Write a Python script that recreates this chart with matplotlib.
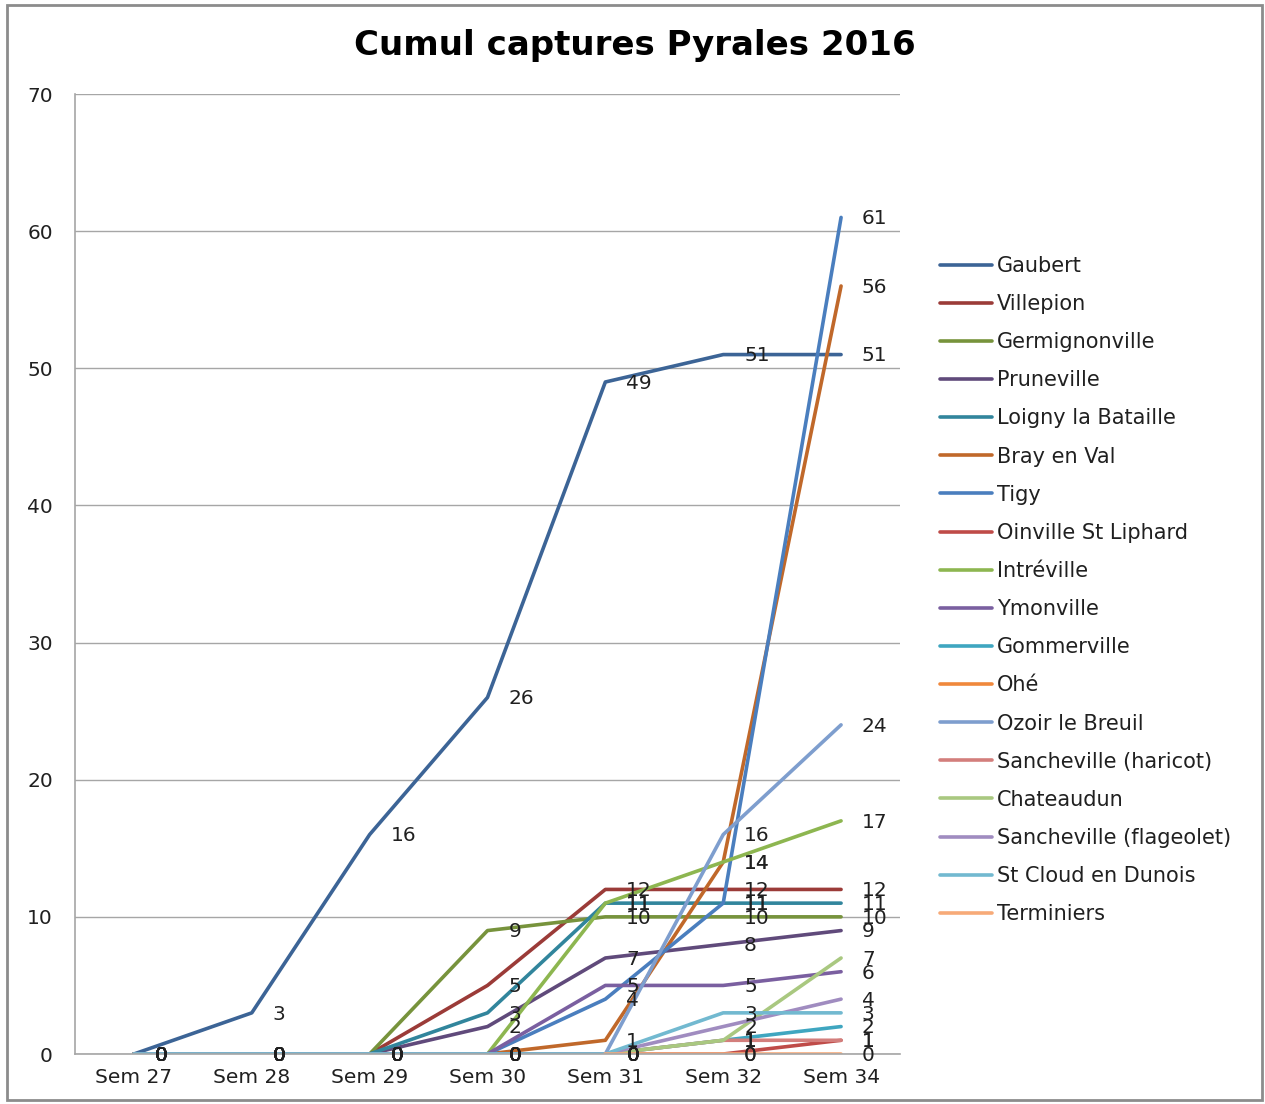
import matplotlib
matplotlib.use("Agg")
import matplotlib.pyplot as plt
import matplotlib.patches as mpatches
import numpy as np

nan = np.nan
weeks = ["Sem 27", "Sem 28", "Sem 29", "Sem 30", "Sem 31", "Sem 32", "Sem 34"]

gaubert = [0, 3, 16, 26, 49, 51, 51]
villepion = [0, 0, 0, 5, 12, 12, 12]
germignonville = [0, 0, 0, 9, 10, 10, 10]
pruneville = [0, 0, 0, 2, 7, 8, 9]
loigny = [0, 0, 0, 3, 11, 11, 11]
bray = [0, 0, 0, 0, 1, 14, 56]
tigy = [0, 0, 0, 0, 4, 11, 61]
oinville = [0, 0, 0, 0, 0, 0, 1]
intreville = [0, 0, 0, 0, 11, 14, 17]
ymonville = [0, 0, 0, 0, 5, 5, 6]
gommerville = [0, 0, 0, 0, 0, 1, 2]
ohe = [nan, nan, nan, nan, nan, nan, nan]
ozoir = [0, 0, 0, 0, 0, 16, 24]
sanch_haricot = [0, 0, 0, 0, 0, 1, 1]
chateaudun = [0, 0, 0, 0, 0, 1, 7]
sanch_flageolet = [0, 0, 0, 0, 0, 2, 4]
st_cloud = [0, 0, 0, 0, 0, 3, 3]
terminiers = [nan, nan, nan, nan, 0, 0, 0]

names = ["Gaubert", "Villepion", "Germignonville", "Pruneville", "Loigny la Bataille",
         "Bray en Val", "Tigy", "Oinville St Liphard", "Intréville", "Ymonville",
         "Gommerville", "Ohé", "Ozoir le Breuil", "Sancheville (haricot)", "Chateaudun",
         "Sancheville (flageolet)", "St Cloud en Dunois", "Terminiers"]
series = [gaubert, villepion, germignonville, pruneville, loigny, bray, tigy, oinville,
          intreville, ymonville, gommerville, ohe, ozoir, sanch_haricot, chateaudun,
          sanch_flageolet, st_cloud, terminiers]
colors = ["#3C6496", "#9B3B38", "#77933C", "#604A7B", "#31859C", "#C0682A",
          "#4A7EBE", "#BF4B48", "#8DB650", "#7A5FA0", "#3FA6C0", "#F0883C",
          "#7E9ECE", "#D37E7C", "#A9C880", "#A08CC0", "#72B9D0", "#F7AA78"]

plt.rcParams['font.family'] = ['DejaVu Sans']
fig = plt.figure(figsize=(12.65, 11.04), dpi=100)
ax = fig.add_axes([75/1265, 1-1054/1104, 825/1265, 960/1104])

x = np.arange(len(weeks))
for name, vals, c in zip(names, series, colors):
    v = np.array(vals, dtype=float)
    ax.plot(x, v, color=c, lw=2.6, label=name, solid_capstyle='round', zorder=2)
    for xi, yi in zip(x, v):
        if not np.isnan(yi):
            ax.annotate(f"{int(yi)}", (xi, yi), xytext=(15, -1), textcoords='offset points',
                        ha='left', va='center', fontsize=14.5, color='#202020', zorder=3)

ax.set_xlim(-0.5, 6.5)
ax.set_ylim(0, 70)
ax.set_yticks(range(0, 71, 10))
ax.set_xticks(x)
ax.set_xticklabels(weeks)
ax.tick_params(axis='both', length=0, labelsize=14.5, colors='#202020')
ax.tick_params(axis='y', pad=16)
ax.tick_params(axis='x', pad=10)
ax.grid(axis='y', color='#A6A6A6', lw=1)
ax.set_axisbelow(True)
for s in ['top', 'right']:
    ax.spines[s].set_visible(False)
for s in ['left', 'bottom']:
    ax.spines[s].set_color('#A6A6A6')
    ax.spines[s].set_linewidth(1.2)

fig.text(635/1265, 1-46/1104, "Cumul captures Pyrales 2016", ha='center', va='center',
         fontsize=24.5, fontweight='bold', color='black')

leg = ax.legend(loc='upper left', bbox_to_anchor=(940/1265, 1-256/1104),
                bbox_transform=fig.transFigure, frameon=False, fontsize=15,
                handlelength=2.5, handletextpad=0.25, labelspacing=0.87, borderaxespad=0,
                borderpad=0)
for t in leg.get_texts():
    t.set_color('#202020')

fig.patches.append(mpatches.Rectangle((7/1265, 4/1104), 1255/1265, 1095/1104,
                                      transform=fig.transFigure, fill=False,
                                      edgecolor='#8C8C8C', lw=2))
fig.savefig("out.png", dpi=100)
